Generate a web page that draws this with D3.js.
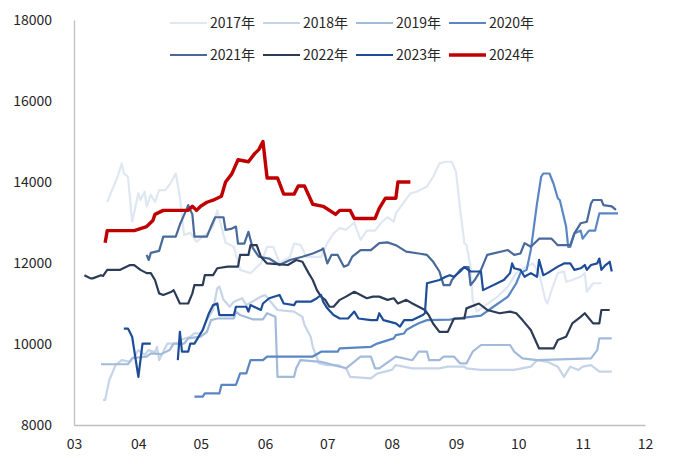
<!DOCTYPE html>
<html><head><meta charset="utf-8">
<script src="https://cdn.jsdelivr.net/npm/d3@7/dist/d3.min.js"></script>
<style>body{margin:0;background:#fff;}svg{display:block;font-family:"Noto Sans CJK SC","Noto Sans",sans-serif;}</style>
</head><body><svg id="c" width="700" height="467"></svg>
<script>
// ---- data (month-day, value) ----
const seriesNames = ["2017年","2018年","2019年","2020年","2021年","2022年","2023年","2024年"];
const yTicks = [8000,10000,12000,14000,16000,18000];
const xTickMonths = ["03","04","05","06","07","08","09","10","11","12"];

const s2017 = [["03-17",13510],["03-22",14130],["03-24",14460],["03-25",14220],["03-27",14130],["03-29",13020],["04-01",13720],["04-02",13555],["04-04",13760],["04-05",13390],["04-07",13680],["04-09",13510],["04-11",13800],["04-14",13800],["04-17",14010],["04-19",14210],["04-21",13640],["04-23",12690],["04-26",12750],["04-29",12525],["05-04",12730],["05-07",12900],["05-09",13300],["05-11",12900],["05-13",12500],["05-17",12400],["05-20",11830],["05-25",11750],["05-30",11990],["06-02",12400],["06-05",12400],["06-08",11990],["06-13",12155],["06-15",12480],["06-18",12450],["06-21",12150],["06-28",12150],["07-01",12490],["07-04",12730],["07-07",12860],["07-10",12820],["07-14",13000],["07-17",12570],["07-20",12800],["07-24",12800],["07-27",13000],["07-30",13130],["08-02",13020],["08-03",13225],["08-07",13510],["08-10",13720],["08-13",13760],["08-18",13890],["08-21",14130],["08-24",14460],["08-27",14500],["08-30",14500],["09-01",14250],["09-03",13310],["09-05",12490],["09-06",12450],["09-08",11900],["09-09",11090],["09-11",10800],["09-15",10950],["09-21",11170],["09-26",11420],["09-30",11750],["10-05",11910],["10-08",11990],["10-11",11750],["10-14",11090],["10-15",11000],["10-17",11330],["10-20",11750],["10-23",11790],["10-24",11540],["10-27",11580],["10-31",11660],["11-02",11750],["11-03",11290],["11-06",11500],["11-10",11500]];

const s2018 = [["03-15",8620],["03-16",8620],["03-18",9110],["03-21",9480],["03-24",9600],["03-28",9560],["03-30",9690],["04-01",9850],["04-04",9730],["04-06",9850],["04-09",9800],["04-10",9930],["04-11",9600],["04-15",10010],["04-20",10010],["04-21",10100],["04-26",10180],["04-28",10260],["05-01",10260],["05-04",10590],["05-07",10840],["05-09",11375],["05-10",11420],["05-12",11090],["05-15",10920],["05-17",11045],["05-21",11130],["05-23",10960],["05-30",11170],["06-01",11210],["06-03",11090],["06-07",10840],["06-15",10800],["06-19",10670],["06-20",10470],["06-23",10180],["06-24",9930],["06-27",9520],["07-01",9480],["07-06",9480],["07-10",9400],["07-12",9190],["07-22",9150],["07-25",9270],["08-01",9360],["08-03",9480],["08-11",9400],["08-24",9400],["08-28",9440],["09-05",9440],["09-06",9400],["09-13",9360],["09-29",9360],["10-07",9440],["10-10",9600],["10-15",9560],["10-20",9440],["10-23",9190],["10-26",9440],["10-30",9360],["11-01",9440],["11-05",9480],["11-08",9360],["11-09",9320],["11-15",9320]];

const s2019 = [["03-14",9500],["03-27",9500],["03-29",9650],["04-05",9690],["04-07",9770],["04-12",9750],["04-16",9850],["04-18",10010],["04-23",10010],["04-25",10140],["05-01",10180],["05-04",10300],["05-06",10590],["05-09",10630],["05-17",10630],["05-18",10800],["05-20",10715],["05-26",10610],["05-31",10610],["06-02",10760],["06-06",10670],["06-07",9190],["06-15",9190],["06-16",9400],["06-18",9600],["06-28",9560],["07-10",9400],["07-17",9690],["07-22",9690],["07-24",9400],["07-26",9400],["08-03",9690],["08-11",9600],["08-14",9810],["08-18",9810],["08-19",9600],["08-24",9600],["08-26",9690],["08-31",9690],["09-03",9520],["09-06",9520],["09-09",9810],["09-13",9975],["09-27",9975],["09-29",9810],["10-03",9645],["10-10",9600],["11-05",9645],["11-08",9850],["11-09",10140],["11-15",10140]];

const s2020 = [["04-28",8700],["05-02",8700],["05-03",8780],["05-10",8780],["05-11",8990],["05-18",8990],["05-20",9275],["05-23",9275],["05-25",9600],["05-31",9600],["06-02",9690],["06-24",9690],["06-28",9810],["07-06",9810],["07-07",9890],["07-22",9930],["07-25",10010],["08-02",10140],["08-03",10220],["08-07",10260],["08-08",10345],["08-11",10430],["08-14",10510],["08-18",10590],["08-29",10600],["09-05",10650],["09-13",10700],["09-19",10920],["09-26",11170],["09-30",11500],["10-02",11750],["10-05",11830],["10-07",12320],["10-10",13470],["10-12",14130],["10-13",14210],["10-16",14210],["10-18",13950],["10-20",13600],["10-21",13550],["10-24",12900],["10-25",12400],["10-26",12400],["10-28",12730],["10-31",12800],["11-01",12600],["11-04",12800],["11-07",12800],["11-09",13225],["11-18",13225]];

const s2021 = [["04-05",12200],["04-06",12075],["04-07",12250],["04-11",12300],["04-13",12650],["04-19",12650],["04-21",12950],["04-24",13300],["04-25",13430],["04-27",13200],["04-28",12650],["05-04",12650],["05-06",12900],["05-08",13130],["05-12",13130],["05-13",12815],["05-16",12850],["05-18",12900],["05-19",12480],["05-22",12480],["05-24",12770],["05-26",12380],["05-29",12155],["06-03",12110],["06-08",11950],["06-13",12075],["06-19",12155],["06-24",12235],["06-28",12320],["06-29",12360],["07-01",11990],["07-03",12200],["07-06",12200],["07-09",11910],["07-11",11950],["07-13",12155],["07-17",12320],["07-22",12320],["07-26",12490],["07-30",12510],["08-03",12440],["08-08",12280],["08-14",12235],["08-18",12200],["08-21",12030],["08-24",11790],["08-26",11455],["08-29",11455],["08-30",11580],["09-03",11830],["09-05",11900],["09-07",11900],["09-08",11455],["09-10",11580],["09-13",11830],["09-16",12200],["09-26",12320],["09-29",12200],["10-02",12235],["10-04",12490],["10-07",12400],["10-11",12600],["10-17",12600],["10-20",12440],["10-26",12440],["10-28",12730],["10-31",12980],["11-03",13020],["11-05",13470],["11-06",13555],["11-10",13555],["11-11",13430],["11-15",13400],["11-17",13310]];

const s2022 = [["03-06",11700],["03-09",11620],["03-10",11620],["03-14",11700],["03-15",11680],["03-17",11830],["03-23",11830],["03-28",11950],["03-30",11950],["04-02",11830],["04-05",11750],["04-07",11750],["04-09",11580],["04-11",11250],["04-13",11210],["04-17",11290],["04-18",11330],["04-21",11000],["04-25",11000],["04-27",11250],["04-28",11455],["05-02",11455],["05-03",11700],["05-07",11700],["05-09",11870],["05-14",11910],["05-19",11910],["05-20",12200],["05-24",12200],["05-25",12440],["05-28",12440],["05-30",12155],["06-02",11990],["06-12",11950],["06-16",12075],["06-19",12030],["06-22",11750],["06-24",11580],["06-26",11330],["06-28",11170],["06-30",11090],["07-02",10920],["07-04",10920],["07-07",11090],["07-10",11170],["07-14",11290],["07-17",11210],["07-20",11130],["07-23",11170],["07-26",11170],["07-30",11090],["08-02",11130],["08-04",11000],["08-06",11045],["08-08",11090],["08-11",11000],["08-14",10920],["08-17",10840],["08-19",10700],["08-21",10500],["08-24",10300],["08-28",10300],["08-31",10630],["09-05",10630],["09-06",10880],["09-12",11000],["09-16",10840],["09-22",10760],["09-27",10800],["09-30",10760],["10-03",10590],["10-07",10345],["10-11",9890],["10-18",9890],["10-20",10100],["10-24",10180],["10-27",10510],["10-31",10670],["11-02",10760],["11-06",10510],["11-09",10510],["11-10",10840],["11-14",10840]];

const s2023 = [["03-25",10380],["03-27",10380],["03-29",10180],["04-01",9190],["04-03",10010],["04-07",10010],["04-14",null],["04-20",9600],["04-21",10300],["04-22",9810],["04-25",9810],["04-26",10010],["04-28",10010],["05-02",10345],["05-05",10760],["05-07",10960],["05-09",11000],["05-10",10715],["05-17",10715],["05-18",10920],["05-23",10920],["05-24",10800],["05-25",10960],["05-30",10840],["05-31",11000],["06-03",11130],["06-08",11210],["06-10",11000],["06-15",10960],["06-16",11045],["06-23",11045],["06-26",11130],["06-28",11210],["06-29",11045],["07-01",10880],["07-04",10715],["07-07",10630],["07-11",10630],["07-14",10800],["07-16",10630],["07-22",10590],["07-25",10590],["07-26",10760],["07-28",10590],["08-03",10510],["08-05",10430],["08-07",10590],["08-11",10590],["08-16",10715],["08-17",10760],["08-18",11500],["08-24",11580],["08-27",11660],["08-29",11700],["08-31",11660],["09-03",11790],["09-05",11900],["09-08",11790],["09-13",11790],["09-14",11330],["09-24",11580],["09-27",11750],["09-28",11990],["09-29",11870],["10-02",11830],["10-04",11660],["10-07",11750],["10-10",11660],["10-11",12075],["10-13",11700],["10-15",11750],["10-20",11910],["10-23",11990],["10-26",11990],["10-28",11830],["10-31",11870],["11-02",11950],["11-03",11830],["11-05",11950],["11-08",11990],["11-09",12110],["11-10",11830],["11-12",11950],["11-14",12030],["11-15",11790]];

const s2024 = [["03-16",12500],["03-17",12800],["03-30",12800],["04-05",12900],["04-08",13050],["04-09",13200],["04-13",13300],["04-25",13300],["04-27",13400],["04-29",13300],["05-01",13400],["05-04",13500],["05-07",13550],["05-11",13650],["05-13",14000],["05-16",14200],["05-19",14550],["05-24",14500],["05-27",14700],["05-29",14800],["05-31",15000],["06-02",14100],["06-07",14100],["06-10",13700],["06-15",13700],["06-17",13900],["06-20",13900],["06-24",13450],["06-29",13400],["07-05",13200],["07-07",13300],["07-12",13300],["07-14",13100],["07-24",13100],["07-26",13350],["07-29",13600],["08-03",13600],["08-04",14000],["08-10",14000]];

const seriesData = [s2017,s2018,s2019,s2020,s2021,s2022,s2023,s2024];
const colors = ["#dfe7f2","#c6d4e8","#a3bbdb","#5b86c4","#48699a","#2c3c58","#1d4c98","#c00000"];
const widths = [2.2,2.2,2.2,2.2,2.2,2.2,2.2,3.4];

// ---- drawing ----
const svg = d3.select("#c");
const parse = d3.timeParse("%Y-%m-%d");
const toDate = md => parse("2001-" + md);

const x = d3.scaleTime().domain([toDate("03-01"), toDate("12-01")]).range([74, 645]);
const y = d3.scaleLinear().domain([8000, 18000]).range([425, 20]);

// axes
const xAxis = d3.axisBottom(x)
  .tickValues(xTickMonths.map(m => toDate(m + "-01")))
  .tickFormat(d3.timeFormat("%m")).tickSize(0).tickPadding(14);
const gx = svg.append("g").attr("transform", "translate(0,425)").call(xAxis);
gx.select(".domain").attr("stroke", "#bfbfbf").attr("stroke-width", 1.3);
gx.selectAll("text").attr("font-size", 14).attr("fill", "#262626").attr("font-family", "'Noto Sans CJK SC',sans-serif");

const yAxis = d3.axisLeft(y).tickValues(yTicks).tickFormat(d3.format("d")).tickSize(0).tickPadding(22);
const gy = svg.append("g").attr("transform", "translate(74,0)").call(yAxis);
gy.select(".domain").attr("stroke", "#bfbfbf").attr("stroke-width", 1.3);
gy.selectAll("text").attr("font-size", 14).attr("fill", "#262626").attr("font-family", "'Noto Sans CJK SC',sans-serif");

// lines
const line = d3.line()
  .defined(d => d[1] != null)
  .x(d => x(toDate(d[0])))
  .y(d => y(d[1]));

seriesData.forEach((data, i) => {
  svg.append("path")
    .datum(data)
    .attr("fill", "none")
    .attr("stroke", colors[i])
    .attr("stroke-width", widths[i])
    .attr("stroke-linejoin", "round")
    .attr("d", line);
});

// legend
const legX = [170, 263, 356, 449];
const legY = [23, 55];
seriesNames.forEach((name, i) => {
  const lx = legX[i % 4], ly = legY[Math.floor(i / 4)];
  const g = svg.append("g").attr("transform", `translate(${lx},${ly})`);
  g.append("line").attr("x1", 0).attr("x2", 37).attr("y1", 0).attr("y2", 0)
    .attr("stroke", colors[i]).attr("stroke-width", i === 7 ? 3.5 : 2.2);
  g.append("text").attr("x", 40).attr("y", 0).attr("dy", "0.35em")
    .attr("font-size", 14).attr("fill", "#262626").text(name);
});
</script>
</body></html>
